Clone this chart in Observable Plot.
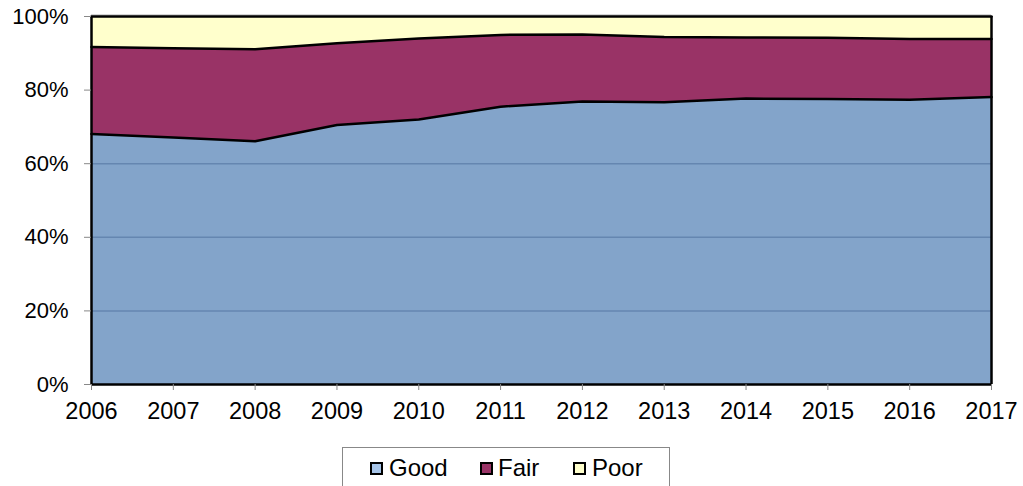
<!DOCTYPE html>
<html>
<head>
<meta charset="utf-8">
<script src="https://cdn.jsdelivr.net/npm/d3@7"></script>
<script src="https://cdn.jsdelivr.net/npm/@observablehq/plot@0.6"></script>
<style>
  body { margin: 0; background: #fff; font-family: "Liberation Sans", Arial, sans-serif; }
  #wrap { position: relative; width: 1023px; height: 486px; overflow: hidden; }
  #legendBox { position: absolute; left: 342px; top: 447px; width: 328px; height: 50px; border: 1px solid #888; box-sizing: border-box; }
  .sw { position: absolute; top: 462px; width: 13px; height: 13px; border: 2.5px solid #000; box-sizing: border-box; }
  .lt { position: absolute; top: 456px; font-size: 24px; line-height: 24px; color: #000; white-space: nowrap; }
</style>
</head>
<body>
<div id="wrap">
  <div id="chart"></div>
  <div id="legendBox"></div>
</div>
<script>
const years = [2006, 2007, 2008, 2009, 2010, 2011, 2012, 2013, 2014, 2015, 2016, 2017];
const seriesNames = ["Good", "Fair", "Poor"];
const good = [68.1, 67.1, 66.1, 70.5, 72.0, 75.5, 76.9, 76.7, 77.7, 77.6, 77.4, 78.1];
const fair = [23.6, 24.3, 25.0, 22.2, 22.0, 19.5, 18.2, 17.7, 16.6, 16.6, 16.5, 15.8];
const poor = [8.3, 8.6, 8.9, 7.3, 6.0, 5.0, 4.9, 5.6, 5.7, 5.8, 6.1, 6.1];
const colors = ["#83a4ca", "#993366", "#ffffcc"];
const legendSwatchColors = ["#a6c4e8", "#993366", "#ffffcc"];
const yTicks = [0, 20, 40, 60, 80, 100];
const gridTicks = [20, 40, 60, 80];

const valuesBySeries = [good, fair, poor];
const data = [];
seriesNames.forEach((s, si) => {
  years.forEach((y, i) => data.push({year: y, series: s, value: valuesBySeries[si][i]}));
});
const stackOpts = {x: "year", y: "value", z: "series", order: seriesNames};

const chart = Plot.plot({
  width: 1023,
  height: 440,
  marginLeft: 91,
  marginRight: 32,
  marginTop: 16,
  marginBottom: 56,
  style: {fontFamily: "'Liberation Sans', Arial, sans-serif", fontSize: "22px", color: "#000", background: "#fff"},
  x: {domain: [2006, 2017], label: null},
  y: {domain: [0, 100], label: null},
  color: {domain: seriesNames, range: colors},
  marks: [
    Plot.areaY(data, Plot.stackY({...stackOpts, fill: "series"})),
    Plot.ruleY(gridTicks, {stroke: "#6586b0", strokeWidth: 1.5}),
    Plot.areaY(data, Plot.stackY({...stackOpts, fill: "series", fillOpacity: d => d.series === "Good" ? 0 : 1})),
    Plot.ruleY([100], {stroke: "#aaa", strokeWidth: 1, dy: -1.5}),
    Plot.lineY(data, Plot.stackY2({...stackOpts, stroke: "#000", strokeWidth: 2.5})),
    Plot.ruleX([2006, 2017], {stroke: "#000", strokeWidth: 2.5}),
    Plot.ruleY([0], {stroke: "#000", strokeWidth: 2.5}),
    Plot.axisY({ticks: yTicks, tickFormat: d => d + "%", tickSize: 7, tickPadding: 16, stroke: "#888", fontSize: 22}),
    Plot.axisX({ticks: years, tickFormat: "d", tickSize: 6, tickPadding: 12, stroke: "#888", fontSize: 23.5})
  ]
});
document.getElementById("chart").appendChild(chart);

const wrap = document.getElementById("wrap");
const swatchLeft = [370, 480, 573];
const textLeft = [389, 498, 592];
seriesNames.forEach((s, i) => {
  const sw = document.createElement("div");
  sw.className = "sw";
  sw.style.left = swatchLeft[i] + "px";
  sw.style.background = legendSwatchColors[i];
  wrap.appendChild(sw);
  const t = document.createElement("div");
  t.className = "lt";
  t.style.left = textLeft[i] + "px";
  t.textContent = s;
  wrap.appendChild(t);
});
</script>
</body>
</html>
